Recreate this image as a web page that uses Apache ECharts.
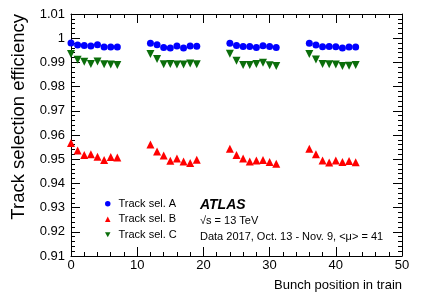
<!DOCTYPE html>
<html><head><meta charset="utf-8">
<script src="https://cdn.jsdelivr.net/npm/echarts@6/dist/echarts.min.js"></script>
<style>html,body{margin:0;padding:0;background:#fff}#c{width:425px;height:305px}</style>
</head><body><div id="c"></div>
<script>
const bunchPos = [0,1,2,3,4,5,6,7, 12,13,14,15,16,17,18,19, 24,25,26,27,28,29,30,31, 36,37,38,39,40,41,42,43];
const effA = [0.9980,0.9972,0.9970,0.9968,0.9973,0.9964,0.9964,0.9964, 0.9979,0.9973,0.9962,0.9960,0.9968,0.9960,0.9968,0.9967, 0.9979,0.9970,0.9966,0.9966,0.9962,0.9969,0.9966,0.9962, 0.9979,0.9972,0.9965,0.9966,0.9965,0.9960,0.9964,0.9964];
const effB = [0.9567,0.9536,0.9517,0.9520,0.9510,0.9497,0.9509,0.9507, 0.9561,0.9532,0.9515,0.9494,0.9503,0.9491,0.9484,0.9498, 0.9543,0.9517,0.9503,0.9490,0.9495,0.9497,0.9488,0.9481, 0.9543,0.9520,0.9495,0.9486,0.9495,0.9488,0.9493,0.9487];
const effC = [0.9935,0.9911,0.9903,0.9893,0.9904,0.9892,0.9891,0.9889, 0.9935,0.9914,0.9892,0.9893,0.9891,0.9891,0.9895,0.9892, 0.9936,0.9907,0.9889,0.9889,0.9893,0.9899,0.9888,0.9885, 0.9935,0.9912,0.9893,0.9892,0.9891,0.9885,0.9886,0.9889];
const seriesNames = ['Track sel. A','Track sel. B','Track sel. C'];
const xTitle = 'Bunch position in train';
const yTitle = 'Track selection efficiency';
const xMin = 0, xMax = 50, xStep = 10;
const yMin = 0.91, yMax = 1.01, yStep = 0.01;

const FONT = '"Liberation Sans", Arial, Helvetica, sans-serif';
const pair = (xs, ys) => xs.map((x, i) => [x, ys[i]]);
const tickIn = (len) => ({show:true, inside:true, length:len, lineStyle:{color:'#000', width:1}});
const minorIn = {show:true, splitNumber:5, length:4, lineStyle:{color:'#000', width:1}};
const axLine = {show:true, onZero:false, lineStyle:{color:'#000', width:1}};
const downTri = 'path://M0,0L10,0L5,9Z';

const chart = echarts.init(document.getElementById('c'), null, {renderer:'canvas'});
chart.setOption({
  animation:false,
  backgroundColor:'#fff',
  textStyle:{fontFamily:FONT},
  grid:{left:71, right:23, top:14, bottom:49, containLabel:false},
  xAxis:[
    {type:'value', min:xMin, max:xMax, interval:xStep, position:'bottom',
     axisLine:axLine, axisTick:tickIn(9), minorTick:minorIn, splitLine:{show:false},
     axisLabel:{color:'#000', fontSize:13, fontFamily:FONT, margin:3}},
    {type:'value', min:xMin, max:xMax, interval:xStep, position:'top',
     axisLine:axLine, axisTick:tickIn(9), minorTick:minorIn, splitLine:{show:false},
     axisLabel:{show:false}}
  ],
  yAxis:[
    {type:'value', min:yMin, max:yMax, interval:yStep, position:'left',
     axisLine:axLine, axisTick:tickIn(9), minorTick:minorIn, splitLine:{show:false},
     axisLabel:{color:'#000', fontSize:13, fontFamily:FONT, margin:6,
       formatter:v => String(parseFloat(v.toFixed(2)))}},
    {type:'value', min:yMin, max:yMax, interval:yStep, position:'right',
     axisLine:axLine, axisTick:tickIn(9), minorTick:minorIn, splitLine:{show:false},
     axisLabel:{show:false}}
  ],
  legend:{
    orient:'vertical', left:105, top:196, padding:0, itemWidth:5.5, itemHeight:5.5, itemGap:0,
    data:[{name:seriesNames[0], icon:'circle'}, {name:seriesNames[1], icon:'triangle'}, {name:seriesNames[2], icon:downTri}],
    textStyle:{color:'#000', fontSize:11, fontFamily:FONT, lineHeight:15.5, padding:[0,0,0,3]}
  },
  series:[
    {name:seriesNames[0], type:'scatter', data:pair(bunchPos, effA), symbol:'circle', symbolSize:7,
     itemStyle:{color:'#0000ff', opacity:1}},
    {name:seriesNames[1], type:'scatter', data:pair(bunchPos, effB), symbol:'triangle', symbolSize:8,
     itemStyle:{color:'#ff0000', opacity:1}},
    {name:seriesNames[2], type:'scatter', data:pair(bunchPos, effC), symbol:'triangle', symbolRotate:180, symbolSize:8,
     itemStyle:{color:'#0b6e0b', opacity:1}}
  ],
  graphic:[
    {type:'text', left:200, top:198, style:{text:'ATLAS', font:'italic bold 14px '+FONT, fill:'#000'}},
    {type:'text', left:200, top:215, style:{text:'√s = 13 TeV', font:'11px '+FONT, fill:'#000'}},
    {type:'text', left:200, top:231, style:{text:'Data 2017, Oct. 13 - Nov. 9, <μ> = 41', font:'11px '+FONT, fill:'#000'}},
    {type:'text', right:23, top:279, style:{text:xTitle, font:'13px '+FONT, fill:'#000'}},
    {type:'text', x:9, y:14, rotation:Math.PI/2, style:{text:yTitle, font:'18.5px '+FONT, fill:'#000', align:'right', verticalAlign:'top'}}
  ]
});
</script></body></html>
